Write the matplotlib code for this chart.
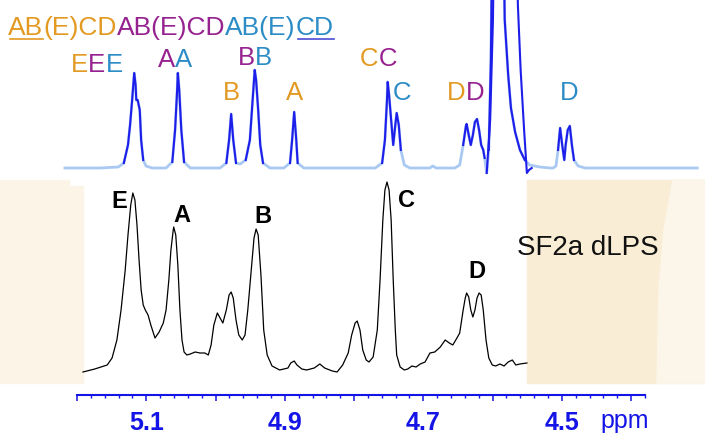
import numpy as np
import matplotlib
matplotlib.use("Agg")
import matplotlib.pyplot as plt
from matplotlib.patches import Rectangle, Polygon
from matplotlib.lines import Line2D
from matplotlib.transforms import IdentityTransform
from matplotlib.ticker import MultipleLocator

plt.rcParams['font.family'] = ['Liberation Sans', 'DejaVu Sans']

# --- data (ppm, intensity in arbitrary units) ---
# upper (reference) spectrum, blue
top_ppm = [5.217, 5.166, 5.140, 5.132, 5.126, 5.123, 5.120, 5.117, 5.115, 5.114, 5.112, 5.109,
           5.107, 5.104, 5.100, 5.091, 5.071, 5.062, 5.058, 5.055, 5.054, 5.052, 5.049, 5.045,
           5.036, 4.993, 4.984, 4.980, 4.977, 4.974, 4.970, 4.964, 4.956, 4.950, 4.947, 4.944,
           4.943, 4.941, 4.938, 4.935, 4.931, 4.921, 4.901, 4.892, 4.889, 4.886, 4.883, 4.881,
           4.872, 4.769, 4.759, 4.755, 4.752, 4.751, 4.749, 4.746, 4.743, 4.740, 4.738, 4.735,
           4.732, 4.727, 4.719, 4.690, 4.686, 4.681, 4.654, 4.647, 4.642, 4.638, 4.637, 4.634,
           4.631, 4.628, 4.625, 4.622, 4.619, 4.616, 4.613, 4.611, 4.608, 4.605, 4.602, 4.599,
           4.585, 4.582, 4.577, 4.573, 4.567, 4.560, 4.553, 4.546, 4.531, 4.517, 4.512, 4.508,
           4.505, 4.502, 4.499, 4.496, 4.494, 4.491, 4.488, 4.485, 4.482, 4.476, 4.466, 4.304]
top_int = [0, 0, 1, 5, 23, 43, 68, 95, 83, 68, 68, 58,
           28, 8, 2, 0, 0, 6, 38, 78, 95, 78, 38, 6,
           0, 0, 5, 28, 54, 28, 5, 4, 8, 28, 58, 88,
           98, 88, 58, 23, 5, 0, 0, 5, 28, 56, 28, 5,
           0, 0, 5, 28, 68, 86, 73, 48, 23, 43, 55, 43,
           18, 3, 0, 0, 2, 0, 0, 3, 23, 42, 44, 33,
           23, 33, 46, 49, 38, 23, 18, 10, -5, 18, 108, 300,
           300, 148, 93, 60, 36, 18, 8, 3, 1, 0, 0, 2,
           18, 40, 23, 8, 23, 38, 42, 23, 8, 2, 0, 0]

# second overlaid trace around the water signal
hdo_ppm = [4.608, 4.603, 4.599, 4.596, 4.566, 4.563, 4.559, 4.554, 4.550, 4.547, 4.543]
hdo_int = [-5, 48, 148, 300, 300, 163, 98, 38, -5, -2, 0]

# lower spectrum, SF2a dLPS, black
bot_ppm = [5.191, 5.174, 5.156, 5.149, 5.142, 5.136, 5.130, 5.126, 5.122, 5.119, 5.116, 5.113,
           5.110, 5.107, 5.104, 5.101, 5.097, 5.093, 5.087, 5.081, 5.075, 5.071, 5.067, 5.064,
           5.061, 5.060, 5.057, 5.054, 5.051, 5.048, 5.045, 5.041, 5.036, 5.029, 5.022, 5.015,
           5.010, 5.006, 5.002, 4.997, 4.993, 4.989, 4.984, 4.980, 4.977, 4.974, 4.970, 4.966,
           4.961, 4.957, 4.953, 4.948, 4.944, 4.941, 4.938, 4.934, 4.930, 4.925, 4.918, 4.907,
           4.895, 4.891, 4.886, 4.882, 4.875, 4.868, 4.857, 4.849, 4.842, 4.831, 4.824, 4.816,
           4.808, 4.803, 4.798, 4.795, 4.791, 4.787, 4.782, 4.778, 4.772, 4.766, 4.762, 4.758,
           4.755, 4.752, 4.749, 4.746, 4.743, 4.740, 4.738, 4.733, 4.727, 4.722, 4.716, 4.710,
           4.704, 4.697, 4.690, 4.683, 4.675, 4.668, 4.662, 4.657, 4.651, 4.647, 4.642, 4.639,
           4.637, 4.634, 4.631, 4.628, 4.625, 4.622, 4.619, 4.616, 4.613, 4.609, 4.605, 4.600,
           4.595, 4.589, 4.583, 4.577, 4.571, 4.566, 4.560, 4.550]
bot_int = [3, 6, 10, 17, 35, 65, 105, 140, 170, 182, 175, 150,
           115, 85, 70, 65, 60, 50, 37, 43, 52, 65, 95, 125,
           143, 148, 140, 110, 65, 35, 23, 20, 21, 23, 22, 22,
           20, 30, 50, 62, 57, 52, 65, 80, 83, 77, 55, 40,
           35, 40, 65, 105, 137, 146, 140, 100, 45, 20, 9, 5,
           7, 12, 14, 10, 6, 5, 7, 11, 7, 4, 3, 10,
           22, 40, 52, 54, 45, 25, 15, 13, 18, 45, 95, 155,
           185, 193, 185, 155, 95, 45, 20, 8, 5, 6, 9, 8,
           11, 13, 22, 23, 28, 35, 32, 30, 37, 42, 65, 77,
           82, 78, 65, 58, 65, 77, 82, 80, 65, 35, 17, 10,
           9, 11, 9, 13, 15, 10, 11, 12]

# residue labels
ORANGE, PURPLE, CYAN = '#E39A22', '#962290', '#2C8CC6'
row1_parts = [("AB", ORANGE), ("(E)CD", ORANGE), ("AB(E)CD", PURPLE),
              ("AB(E)", CYAN), ("CD", CYAN)]
row1_pos = (5.299, 133)
top_labels = [
    [("E", ORANGE), ("E", PURPLE), ("E", CYAN)],
    [("A", PURPLE), ("A", CYAN)],
    [("B", PURPLE), ("B", CYAN)],
    [("B", ORANGE)],
    [("A", ORANGE)],
    [("C", ORANGE), ("C", PURPLE)],
    [("C", CYAN)],
    [("D", ORANGE), ("D", PURPLE)],
    [("D", CYAN)],
]
top_label_pos = [(5.208, 96), (5.083, 101), (4.967, 103), (4.989, 68), (4.898, 68),
                 (4.791, 102), (4.743, 68), (4.665, 68), (4.502, 68)]

bot_labels = ["E", "A", "B", "C", "D"]
bot_label_pos = [(5.150, 167), (5.061, 153), (4.943, 152), (4.736, 168), (4.634, 97)]

scale_major = [5.2, 5.1, 5.0, 4.9, 4.8, 4.7, 4.6, 4.5, 4.4]
scale_labels = ['', '5.1', '', '4.9', '', '4.7', '', '4.5', '']

# --- figure ---
W, H = 705, 438
fig = plt.figure(figsize=(W / 100, H / 100), dpi=100)
fig.patch.set_facecolor('white')


def fx(px):
    return px / W


def fy(py):
    return (H - py) / H


# beige background panels of the composed figure
fig.add_artist(Rectangle((fx(0), fy(383)), fx(69), 203 / H, color='#FCF5E7', zorder=0))
fig.add_artist(Rectangle((fx(69), fy(383)), fx(14), 197 / H, color='#FCF5E7', zorder=0))
fig.add_artist(Rectangle((fx(527), fy(383)), fx(178), 203 / H, color='#F9EDD6', zorder=0))
fig.add_artist(Polygon([(fx(673), fy(180)), (fx(664), fy(230)), (fx(659), fy(290)),
                        (fx(657), fy(383)), (fx(705), fy(383)), (fx(705), fy(180))],
                       closed=True, color='#FCF6EA', zorder=0))

XL = (5.3108, 4.2928)

# upper spectrum
ax1 = fig.add_axes([0, fy(180), 1, 180 / H])
ax1.set_xlim(*XL)
ax1.set_ylim(-12, 168)
ax1.axis('off')
ax1.patch.set_alpha(0)
t_int = np.array(top_int, dtype=float)
ax1.plot(top_ppm, t_int, color='#A9C9F2', lw=2.0, solid_joinstyle='round')
ax1.plot(top_ppm, np.where(t_int > 4, t_int, np.nan), color='#1E1EEB', lw=1.5,
         solid_joinstyle='round')
ax1.plot(hdo_ppm, hdo_int, color='#1E1EEB', lw=1.5)

kw = dict(fontsize=18.5)


def rainbow(ax, x, y, parts, **kw):
    t = ax.text(x, y, parts[0][0], color=parts[0][1], ha='left', va='baseline', **kw)
    out = [t]
    for s, c in parts[1:]:
        t = ax.annotate(s, xy=(1, 0), xycoords=t, va='bottom', color=c, **kw)
        out.append(t)
    return out


row1 = rainbow(ax1, row1_pos[0], row1_pos[1], row1_parts, fontsize=19)
for parts, (x, y) in zip(top_labels, top_label_pos):
    rainbow(ax1, x, y, parts, **kw)

# lower spectrum
ax2 = fig.add_axes([0, fy(390), 1, 210 / H])
ax2.set_xlim(*XL)
ax2.set_ylim(-15, 195)
ax2.axis('off')
ax2.patch.set_alpha(0)
ax2.plot(bot_ppm, bot_int, color='black', lw=0.9)
for s, (x, y) in zip(bot_labels, bot_label_pos):
    ax2.text(x, y, s, fontsize=17, fontweight='bold', ha='left', va='baseline')
ax2.text(4.564, 120, 'SF2a dLPS', fontsize=20, ha='left', va='baseline', color='#111111')

# ppm scale
BLUE = '#1414E6'
ax3 = fig.add_axes([fx(77), fy(395), 568 / W, 0.001])
ax3.set_xlim(5.2, 4.38)
ax3.patch.set_alpha(0)
for s in ['top', 'left', 'right']:
    ax3.spines[s].set_visible(False)
ax3.spines['bottom'].set_color(BLUE)
ax3.spines['bottom'].set_linewidth(1.5)
ax3.set_yticks([])
ax3.set_xticks(scale_major, scale_labels)
ax3.xaxis.set_minor_locator(MultipleLocator(0.02))
ax3.tick_params(axis='x', which='major', length=4.3, width=1.1, color=BLUE,
                labelcolor=BLUE, labelsize=18, pad=7)
ax3.tick_params(axis='x', which='minor', length=2.2, width=1.0, color=BLUE)
for lbl in ax3.get_xticklabels():
    lbl.set_fontweight('bold')
fig.text(fx(600), fy(428), 'ppm', color=BLUE, fontsize=18, ha='left', va='baseline')

# underlines under the first "AB" and the last "CD"
fig.canvas.draw()
for t, c in [(row1[0], ORANGE), (row1[-1], '#4B4BD6')]:
    bb = t.get_window_extent()
    fig.add_artist(Line2D([bb.x0 + 2, bb.x1], [bb.y0 + 1, bb.y0 + 1], color=c, lw=1.2,
                          transform=IdentityTransform()))

fig.savefig('out.png', dpi=100, facecolor='white')
